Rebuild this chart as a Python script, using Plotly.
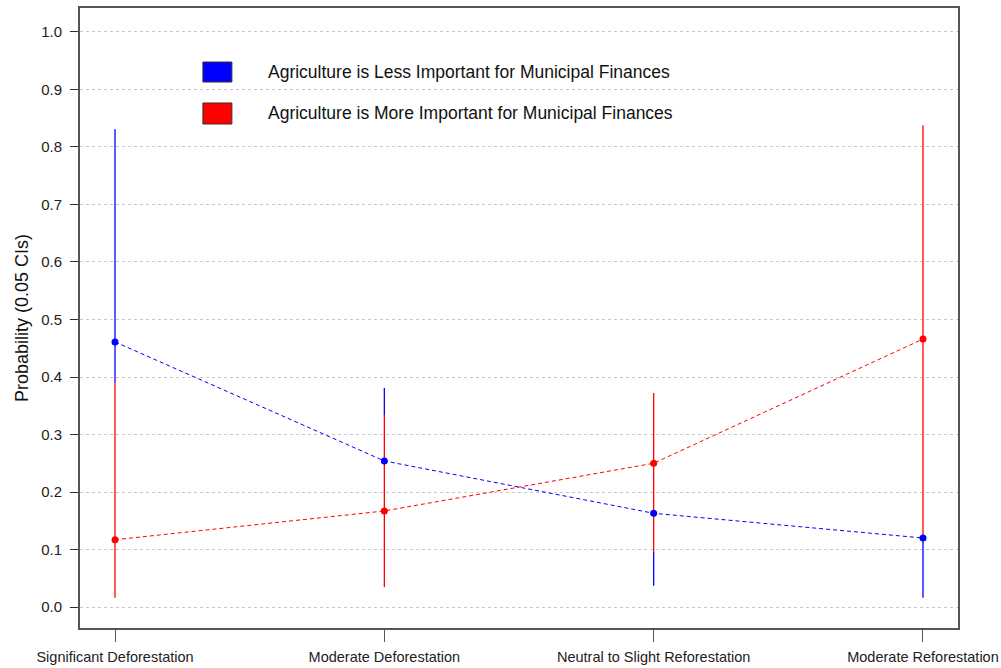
import plotly.graph_objects as go

# Outcome categories along the x axis
categories = ["Significant Deforestation", "Moderate Deforestation",
              "Neutral to Slight Reforestation", "Moderate Reforestation"]

# Predicted probabilities with 95% interval bounds
less_prob = [0.461, 0.254, 0.163, 0.120]
less_lo = [0.390, 0.334, 0.037, 0.016]
less_hi = [0.831, 0.381, 0.097, 0.120]

more_prob = [0.117, 0.167, 0.250, 0.466]
more_lo = [0.016, 0.035, 0.097, 0.120]
more_hi = [0.390, 0.334, 0.372, 0.838]

y_ticks = [0.0, 0.1, 0.2, 0.3, 0.4, 0.5, 0.6, 0.7, 0.8, 0.9, 1.0]

legend_less = "Agriculture is Less Important for Municipal Finances"
legend_more = "Agriculture is More Important for Municipal Finances"

xs = list(range(len(categories)))
FONT = "Liberation Sans, Arial, sans-serif"


def interval(lo, hi, color):
    # vertical interval segments, one per category
    x, y = [], []
    for i, (l, h) in enumerate(zip(lo, hi)):
        x += [i, i, None]
        y += [l, h, None]
    return go.Scatter(x=x, y=y, mode="lines",
                      line=dict(color=color, width=1.3),
                      showlegend=False, hoverinfo="skip")


def points(prob, color):
    return go.Scatter(
        x=xs, y=prob, mode="lines+markers",
        line=dict(color=color, width=1, dash="4px,3px"),
        marker=dict(color=color, size=7),
        showlegend=False, hoverinfo="skip",
    )


fig = go.Figure()
fig.add_trace(interval(less_lo, less_hi, "#0000ff"))
fig.add_trace(interval(more_lo, more_hi, "#ff0000"))
fig.add_trace(points(more_prob, "#ff0000"))
fig.add_trace(points(less_prob, "#0000ff"))

# Legend drawn as filled boxes plus labels
legend_items = [(legend_less, "#0000ff", 0.9129, 0.8806),
                (legend_more, "#ff0000", 0.8468, 0.8129)]
for text, color, y1, y0 in legend_items:
    fig.add_shape(type="rect", xref="paper", yref="paper",
                  x0=0.140, x1=0.173, y0=y0, y1=y1,
                  fillcolor=color, line=dict(color="#333333", width=1))
    fig.add_annotation(xref="paper", yref="paper", x=0.212, y=(y0 + y1) / 2,
                       text=text, showarrow=False, xanchor="left",
                       yanchor="middle",
                       font=dict(family=FONT, size=17.5, color="#111111"))

fig.update_layout(
    width=1001, height=668,
    margin=dict(l=80, r=43, t=8, b=40),
    paper_bgcolor="white", plot_bgcolor="white",
    font=dict(family=FONT, size=14, color="#222222"),
    xaxis=dict(range=[-0.13, 3.13], tickvals=xs, ticktext=categories,
               showgrid=False, zeroline=False, automargin=False,
               ticklabeloverflow="allow",
               showline=True, mirror=True, linecolor="#555555", linewidth=2,
               ticks="outside", ticklen=12, tickcolor="#555555",
               ticklabelstandoff=3,
               tickfont=dict(family=FONT, size=14.5, color="#222222")),
    yaxis=dict(range=[-0.0365, 1.0417], tickvals=y_ticks,
               ticktext=[f"{v:.1f}" for v in y_ticks],
               showgrid=True, gridcolor="#c8c8c8", griddash="dot", gridwidth=1,
               zeroline=False, automargin=False,
               showline=True, mirror=True, linecolor="#555555", linewidth=2,
               ticks="outside", ticklen=8, tickcolor="#333333",
               ticklabelstandoff=5,
               tickfont=dict(family=FONT, size=15, color="#222222"),
               title=dict(text="Probability (0.05 CIs)", standoff=8,
                          font=dict(family=FONT, size=18, color="#111111"))),
)

fig.write_html("out.html")
